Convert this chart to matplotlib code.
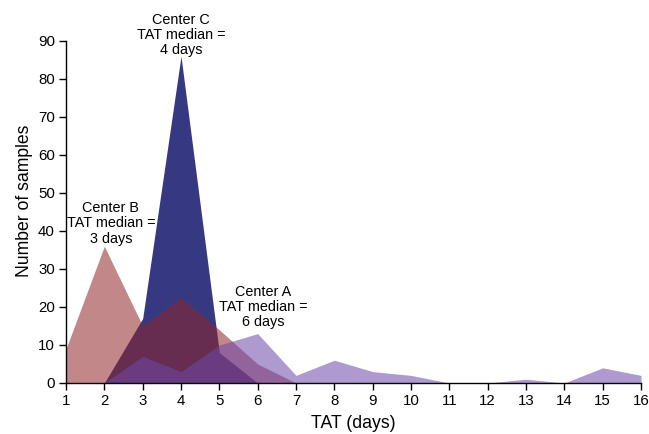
import matplotlib
matplotlib.use("Agg")
import matplotlib.pyplot as plt

plt.rcParams['font.family'] = ['Liberation Sans', 'DejaVu Sans']

days = list(range(1, 17))
center_a = [0, 0, 7, 3, 10, 13, 2, 6, 3, 2, 0, 0, 1, 0, 4, 2]
center_b_days = [1, 2, 3, 4, 5, 6, 7]
center_b = [9, 36, 15, 22.5, 14, 5, 0]
center_c_days = [2, 3, 4, 5, 6]
center_c = [0, 17, 86, 8, 0]

xticks = list(range(1, 17))
yticks = list(range(0, 91, 10))

W, H = 649, 434
fig = plt.figure(figsize=(W/100, H/100), dpi=100)
L, R, B, T = 66, 641, 383, 41
ax = fig.add_axes([L/W, 1-B/H, (R-L)/W, (B-T)/H])

ax.fill_between(center_c_days, center_c, 0, color=(0.17, 0.18, 0.48), alpha=0.95, linewidth=0)
ax.fill_between(center_b_days, center_b, 0, color=(0.56, 0.14, 0.16), alpha=0.55, linewidth=0)
ax.fill_between(days, center_a, 0, color=(0.43, 0.28, 0.67), alpha=0.55, linewidth=0)

ax.set_xlim(1, 16)
ax.set_ylim(0, 90)
ax.set_xticks(xticks)
ax.set_yticks(yticks)
ax.tick_params(direction='out', length=5, width=1, labelsize=10.8, colors='black', pad=3)
for s in ['top', 'right']:
    ax.spines[s].set_visible(False)
for s in ['left', 'bottom']:
    ax.spines[s].set_linewidth(1)

ax.set_xlabel('TAT (days)', fontsize=12.7, labelpad=5)
fig.text(25/W, 1-201/H, 'Number of samples', rotation=90, ha='center', va='center', fontsize=12.7)

txt = dict(ha='center', va='center', fontsize=10.4, linespacing=1.12, clip_on=False)
ax.text(4.0, 91.6, 'Center C\nTAT median =\n4 days', **txt)
ax.text(2.17, 42.0, 'Center B\nTAT median =\n3 days', **txt)
ax.text(6.14, 20.0, 'Center A\nTAT median =\n6 days', **txt)

fig.savefig('out.png', dpi=100)
